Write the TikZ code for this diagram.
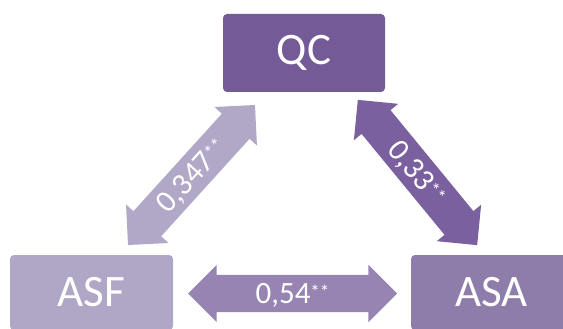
\documentclass[tikz,border=0pt]{standalone}
\usepackage{fontspec}
\setmainfont{Carlito}
\usetikzlibrary{shapes.arrows}

\definecolor{qcfill}{HTML}{745B97}
\definecolor{asffill}{HTML}{B0A7C6}
\definecolor{asafill}{HTML}{8E7CAB}
\definecolor{lightlink}{HTML}{B1A8C8}
\definecolor{darklink}{HTML}{7B60A0}
\definecolor{midlink}{HTML}{9784B2}

\newcommand{\sigmark}{\raisebox{5pt}{\fontsize{19}{19}\selectfont**}}

\tikzset{
  box/.style={fill=#1, rounded corners=4pt, text=white, inner sep=0pt,
    font=\fontsize{45}{45}\selectfont},
  link/.style={double arrow, fill=#1, text=white, inner sep=0pt,
    text height=28.3pt, text depth=8.7pt,
    minimum width=57pt, double arrow head extend=10pt,
    font=\fontsize{31}{31}\selectfont}
}

\begin{document}
\begin{tikzpicture}[x=1pt,y=-1pt]
\useasboundingbox (0,0) rectangle (563,329);
\clip (0,0) rectangle (563,329);

% boxes
\node[box=qcfill, minimum width=162pt, minimum height=78pt] (qc) at (304,53) {QC};
\node[box=asffill, minimum width=163pt, minimum height=75pt] (asf) at (91.5,292.5) {ASF};
\node[box=asafill, minimum width=161pt, minimum height=75pt] (asa) at (491.5,292.5) {ASA};

% links
\node[link=lightlink, minimum height=189pt, rotate=47.8] (qcasf) at (191.5,175) {0,347\sigmark};
\node[link=darklink, minimum height=188pt, rotate=-50.6] (qcasa) at (417.5,172.5) {0,33\sigmark};
\node[link=midlink, minimum height=209pt] (asfasa) at (292.5,293.5) {0,54\sigmark};
\end{tikzpicture}
\end{document}
